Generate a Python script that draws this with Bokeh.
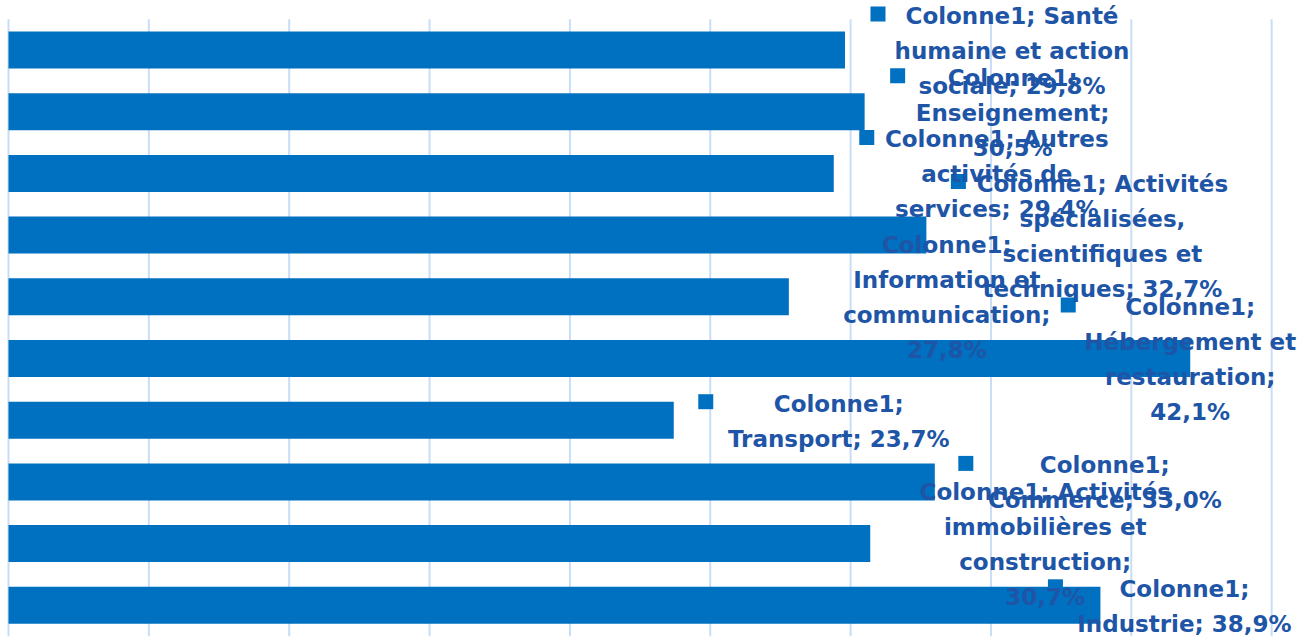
from bokeh.plotting import figure
from bokeh.models import ColumnDataSource, Range1d
from bokeh.embed import file_html
from bokeh.resources import INLINE
from bokeh.core.properties import value as pvalue

# ---- data (top to bottom as displayed) ----
series_name = "Colonne1"
categories = [
    "Santé humaine et action sociale",
    "Enseignement",
    "Autres activités de services",
    "Activités spécialisées, scientifiques et techniques",
    "Information et communication",
    "Hébergement et restauration",
    "Transport",
    "Commerce",
    "Activités immobilières et construction",
    "Industrie",
]
values = [29.8, 30.5, 29.4, 32.7, 27.8, 42.1, 23.7, 33.0, 30.7, 38.9]
x_ticks = [0, 5, 10, 15, 20, 25, 30, 35, 40, 45]

# ---- label layout (words per line, pixel offsets of the label box) ----
words_per_line = [[2, 3, 2], [1, 1, 1], [2, 2, 2], [2, 1, 2, 2], [1, 2, 1, 1],
                  [1, 2, 1, 1], [1, 2], [1, 2], [2, 2, 1, 1], [1, 2]]
text_dx = [167, 148, 163, 176, 158, 0, 165, 170, 175, 84]
square_dx = [33, 33, 33, 32, 33, -122, 32, 31, 33, -45]
LINE_H = 35

# ---- geometry ----
W, H = 1298, 638
PPU = 28.07          # pixels per percent
ROW_PX = 61.7        # pixels per category row
X_START = -8 / PPU
X_END = X_START + W / PPU
Y_END = 9 + 49.5 / ROW_PX
Y_START = Y_END - H / ROW_PX

n = len(categories)
ys = [n - 1 - k for k in range(n)]

p = figure(width=W, height=H, output_backend="svg", toolbar_location=None,
           x_range=Range1d(X_START, X_END), y_range=Range1d(Y_START, Y_END),
           min_border=0, min_border_left=0, min_border_right=0,
           min_border_top=0, min_border_bottom=0)
p.outline_line_color = None
p.axis.visible = False
p.grid.visible = False
p.background_fill_color = "white"
p.border_fill_color = "white"

# vertical grid lines
p.segment(x0=x_ticks, y0=[-0.5] * len(x_ticks), x1=x_ticks, y1=[n - 0.5] * len(x_ticks),
          line_color="#C9DDF6", line_width=2)

# bars
bar_src = ColumnDataSource(dict(y=ys, right=values))
p.hbar(y="y", right="right", left=0, height=0.6, source=bar_src,
       fill_color="#0070C0", line_color=None)

# labels
lx, ly, ltxt, lxo, lyo = [], [], [], [], []
sqx, sqy = [], []
for k in range(n):
    pct = f"{values[k]:.1f}".replace(".", ",") + "%"
    words = f"{series_name}; {categories[k]}; {pct}".split(" ")
    lines, i = [], 0
    for cnt in words_per_line[k]:
        lines.append(" ".join(words[i:i + cnt]))
        i += cnt
    m = len(lines)
    first_dy = None
    for j, line in enumerate(lines):
        dy = (j - (m - 1) / 2) * LINE_H + 1
        if first_dy is None:
            first_dy = dy
        lx.append(values[k]); ly.append(ys[k]); ltxt.append(line)
        lxo.append(text_dx[k]); lyo.append(dy)
    sqx.append(values[k] + square_dx[k] / PPU)
    sqy.append(ys[k] - (first_dy - 2) / ROW_PX)

p.rect(x=sqx, y=sqy, width=15, height=15, width_units="screen", height_units="screen",
       fill_color="#0070C0", line_color=None)

lab_src = ColumnDataSource(dict(x=lx, y=ly, text=ltxt, xo=lxo, yo=lyo))
p.text(x="x", y="y", text="text", x_offset="xo", y_offset="yo", source=lab_src,
       text_font=pvalue("DejaVu Sans"), text_font_style="bold", text_font_size="23px",
       text_color="#1E55A6", text_align="center", text_baseline="middle")

open("out.html", "w").write(file_html(p, INLINE))
